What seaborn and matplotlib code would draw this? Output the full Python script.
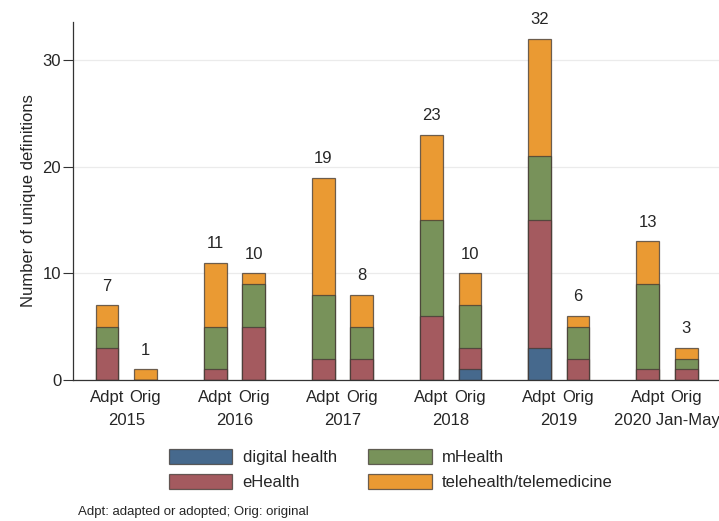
import numpy as np
import pandas as pd
import matplotlib
matplotlib.use("Agg")
import matplotlib.pyplot as plt
import seaborn as sns
from matplotlib.patches import Patch

# --- dados ---
anos = ['2015', '2016', '2017', '2018', '2019', '2020 Jan-May']
tipos = ['Adpt', 'Orig']

digital_adpt = [0, 0, 0, 0, 3, 0]
digital_orig = [0, 0, 0, 1, 0, 0]
ehealth_adpt = [3, 1, 2, 6, 12, 1]
ehealth_orig = [0, 5, 2, 2, 2, 1]
mhealth_adpt = [2, 4, 6, 9, 6, 8]
mhealth_orig = [0, 4, 3, 4, 3, 1]
tele_adpt = [2, 6, 11, 8, 11, 4]
tele_orig = [1, 1, 3, 3, 1, 1]

categorias = ['digital health', 'eHealth', 'mHealth', 'telehealth/telemedicine']
cores = {'digital health': '#46698d', 'eHealth': '#a45a5f',
         'mHealth': '#78925a', 'telehealth/telemedicine': '#ea9a33'}
cor_borda = (0.25, 0.22, 0.2, 0.75)

passo_grupo = 2.81
largura = 0.59

linhas = []
for i, ano in enumerate(anos):
    for j, tipo in enumerate(tipos):
        if tipo == 'Adpt':
            vals = [digital_adpt[i], ehealth_adpt[i], mhealth_adpt[i], tele_adpt[i]]
        else:
            vals = [digital_orig[i], ehealth_orig[i], mhealth_orig[i], tele_orig[i]]
        acum = np.cumsum(vals)
        for cat, v, c in zip(categorias, vals, acum):
            linhas.append({'ano': ano, 'tipo': tipo, 'x': i * passo_grupo + j,
                           'categoria': cat, 'valor': v, 'acumulado': c})
df = pd.DataFrame(linhas)

sns.set_style('white')
plt.rcParams['font.family'] = ['Liberation Sans', 'DejaVu Sans']

fig = plt.figure(figsize=(7.19, 5.21), dpi=100)
ax = fig.add_axes([73 / 719, 141 / 521, 646 / 719, 358 / 521])

# empilhamento: desenha o acumulado do topo para a base
for cat in categorias[::-1]:
    sub = df[df['categoria'] == cat]
    sns.barplot(data=sub, x='x', y='acumulado', native_scale=True, errorbar=None,
                color=cores[cat], saturation=1, width=largura,
                edgecolor=cor_borda, linewidth=0.9, ax=ax)

# totais acima das barras
totais = df.groupby('x')['valor'].sum()
for x, t in totais.items():
    ax.text(x, t + 1.8, str(int(t)), ha='center', va='center', fontsize=12)

ax.set_xlim(-0.883, 15.9)
ax.set_ylim(0, 33.6)
ax.set_yticks([0, 10, 20, 30])
ax.tick_params(axis='y', labelsize=12, length=7, width=0.8, pad=1.5, left=True, color='#333333')
ax.set_xticks(sorted(df['x'].unique()))
ax.set_xticklabels(tipos * len(anos), fontsize=12)
ax.tick_params(axis='x', length=0, pad=7)
ax.set_xlabel('')
ax.set_ylabel('Number of unique definitions', fontsize=12, labelpad=5)
ax.grid(axis='y', color='#ebebeb', linewidth=0.9)
ax.set_axisbelow(True)
sns.despine(ax=ax)
for s in ['left', 'bottom']:
    ax.spines[s].set_color('#333333')
    ax.spines[s].set_linewidth(0.9)

trans = ax.get_xaxis_transform()
for i, ano in enumerate(anos):
    ax.text(i * passo_grupo + 0.5, -0.1145, ano, transform=trans, ha='center',
            va='center', fontsize=12, clip_on=False)

handles = [Patch(facecolor=cores[c], edgecolor=cor_borda, linewidth=0.9, label=c)
           for c in categorias]
fig.legend(handles=handles, loc='center left', bbox_to_anchor=(154 / 719, 1 - 469.5 / 521),
           ncol=2, frameon=False, fontsize=12, handlelength=3.8, handleheight=1.0,
           handletextpad=0.62, columnspacing=1.9, labelspacing=0.5)

fig.text(78 / 719, 1 - 512 / 521, 'Adpt: adapted or adopted; Orig: original',
         fontsize=9.5, ha='left', va='center')

plt.savefig('out.png', dpi=100)
